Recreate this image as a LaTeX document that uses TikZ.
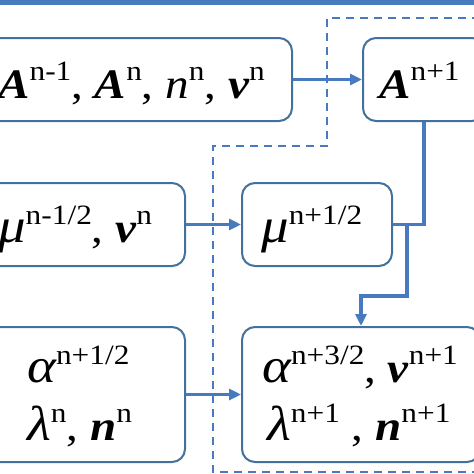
\documentclass[tikz,border=0pt]{standalone}
\usepackage{fontspec}
\setmainfont[FakeStretch=1.12]{Liberation Serif}
\usetikzlibrary{arrows.meta}
\definecolor{boxc}{RGB}{65,113,156}
\definecolor{linec}{RGB}{72,122,192}
\newcommand\Sp[1]{\raisebox{0.42em}{\fontsize{28}{28}\selectfont #1}}
\newcommand\BI[1]{{\bfseries\itshape #1}}
\newcommand\It[1]{{\itshape #1}}
\newcommand\Gk[1]{{\fontsize{49}{50}\selectfont\itshape #1}}
\tikzset{
  box/.style={draw=boxc, line width=2pt, rounded corners=13pt, inner sep=0pt},
  txt/.style={anchor=base west, inner sep=0pt, font=\fontsize{42}{48}\selectfont},
  conn/.style={draw=linec, line width=3.6pt},
  tip/.style={-{Triangle[length=12pt,width=11pt]}},
  dashline/.style={draw=linec, line width=2.6pt, dash pattern=on 8pt off 6pt}
}
\begin{document}
\begin{tikzpicture}[x=1pt,y=-1pt]
\useasboundingbox (0,0) rectangle (474,474);
\clip (0,0) rectangle (474,474);
\fill[white] (0,0) rectangle (474,474);
\fill[linec] (0,0) rectangle (474,4.5);
% boxes
\node[box, minimum width=312pt, minimum height=83pt] (b1) at (136,79.5) {};
\node[box, minimum width=122pt, minimum height=83pt] (b2) at (424,79.5) {};
\node[box, minimum width=205pt, minimum height=83pt] (b3) at (82.5,224.5) {};
\node[box, minimum width=150pt, minimum height=83pt] (b4) at (317,224.5) {};
\node[box, minimum width=205pt, minimum height=135pt] (b5) at (82.5,394.5) {};
\node[box, minimum width=238pt, minimum height=135pt] (b6) at (361,394.5) {};
% texts
\node[txt] (t1) at (-2,98) {\BI{A}\Sp{n-1}, \BI{A}\Sp{n}, \It{n}\Sp{n}, \BI{v}\Sp{n}};
\node[txt] (t2) at (379,98) {\BI{A}\Sp{n+1}};
\node[txt] (t3) at (-2,242) {\Gk{μ}\Sp{n-1/2}, \BI{v}\Sp{n}};
\node[txt] (t4) at (261,242) {\Gk{μ}\Sp{n+1/2}};
\node[txt] (t5a) at (27,382) {\Gk{α}\Sp{n+1/2}};
\node[txt] (t5b) at (27,440) {\Gk{λ}\Sp{n}, \BI{n}\Sp{n}};
\node[txt] (t6a) at (262,382) {\Gk{α}\Sp{n+3/2}, \BI{v}\Sp{n+1}};
\node[txt] (t6b) at (267,440) {\Gk{λ}\Sp{n+1} , \BI{n}\Sp{n+1}};
% dashed region
\coordinate (d0) at (480,18);
\coordinate (d1) at (327,18);
\coordinate (d2) at (327,146);
\coordinate (d3) at (213,146);
\coordinate (d4) at (213,472);
\coordinate (d5) at (480,472);
\draw[dashline] (d0) -- (d1) -- (d2) -- (d3) -- (d4) -- (d5);
% connectors
\draw[conn, tip] (b1.east) -- (b2.west);
\draw[conn, tip] (b3.east) -- (b4.west);
\draw[conn, tip] (b5.east) -- (b6.west);
\coordinate (k) at (407,224.5);
\draw[conn] (b4.east) -| (b2.south);
\draw[conn, tip] (k) -- ++(0,71.5) -| (b6.north);
\end{tikzpicture}
\end{document}
